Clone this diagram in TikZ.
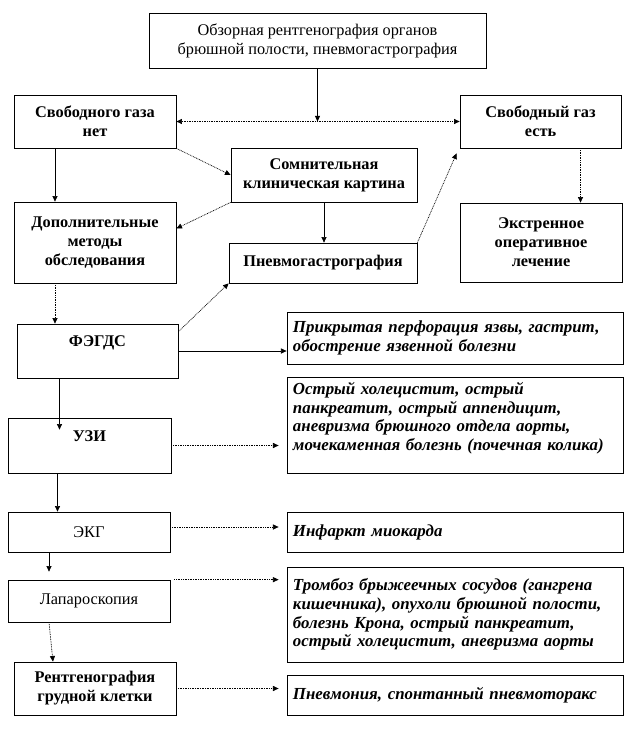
\documentclass[tikz,border=0pt]{standalone}
\usepackage{fontspec}
\setmainfont{Liberation Serif}
\usetikzlibrary{arrows.meta, positioning, calc}
\tikzset{
  >={Triangle[length=4pt, width=3.6pt]},
  box/.style={rectangle, draw=black, fill=white, align=center, font=\fontsize{11.6}{13.6}\selectfont\bfseries, line width=0.5pt, inner sep=2pt},
  plainbox/.style={box, font=\fontsize{11.6}{13.6}\selectfont},
  resbox/.style={rectangle, draw=black, fill=white, text width=8.1cm, inner xsep=0.15cm, align=left, font=\fontsize{12}{13.2}\selectfont\bfseries\itshape, line width=0.5pt},
  arrow/.style={->, line width=0.5pt, color=black},
  dotarrow/.style={arrow, dash pattern=on 0.6pt off 0.6pt}
}

\begin{document}
\begin{tikzpicture}[x=0.025cm, y=-0.025cm]
  \useasboundingbox[fill=white] (0,0) rectangle (635,756);

  % Top
  \node[plainbox, minimum width=8.425cm, minimum height=1.375cm] (survey) at (317.5,40.5) {Обзорная рентгенография органов\\брюшной полости, пневмогастрография};
  \node[box, minimum width=4.05cm, minimum height=1.325cm] (nogas) at (95,121.5) {Свободного газа\\нет};
  \node[box, minimum width=4.025cm, minimum height=1.325cm] (gas) at (540.5,121.5) {Свободный газ\\есть};
  \node[box, minimum width=4.65cm, minimum height=1.35cm] (doubt) at (324,175) {Сомнительная\\клиническая картина};
  \node[box, minimum width=4.05cm, minimum height=2.025cm] (extra) at (95,242.5) {Дополнительные\\методы\\обследования};
  \node[box, minimum width=4.7cm, minimum height=1.0cm] (pgg) at (323,263) {Пневмогастрография};
  \node[box, minimum width=4.05cm, minimum height=1.975cm] (surgery) at (541,242.5) {Экстренное\\оперативное\\лечение};

  % Methods
  \node[box, minimum width=4.025cm, minimum height=1.35cm] (fegds) at (97.5,351) {ФЭГДС\\ \mbox{}};
  \node[box, minimum width=4.075cm, minimum height=1.375cm] (usi) at (89.5,445.5) {УЗИ\\ \mbox{}};
  \node[plainbox, minimum width=4.05cm, minimum height=1.0cm] (ecg) at (89,532) {ЭКГ};
  \node[plainbox, minimum width=4.05cm, minimum height=1.05cm] (lap) at (89,601) {Лапароскопия};
  \node[box, minimum width=4.05cm, minimum height=1.325cm] (xray) at (95,688.5) {Рентгенография\\грудной клетки};

  % Findings
  \node[resbox, minimum height=1.3cm] (ulcer) at (455,338) {Прикрытая перфорация язвы, гастрит,\\обострение язвенной болезни};
  \node[resbox, minimum height=2.375cm] (acute) at (455,425.5) {Острый холецистит, острый\\панкреатит, острый аппендицит,\\аневризма брюшного отдела аорты,\\мочекаменная болезнь (почечная колика)\\ \mbox{}};
  \node[resbox, minimum height=1.0cm] (infarct) at (455,532) {Инфаркт миокарда};
  \node[resbox, minimum height=2.375cm] (thromb) at (455,614.5) {Тромбоз брыжеечных сосудов (гангрена\\кишечника), опухоли брюшной полости,\\болезнь Крона, острый панкреатит,\\острый холецистит, аневризма аорты};
  \node[resbox, minimum height=1.0cm] (pneum) at (455,695) {Пневмония, спонтанный пневмоторакс};

  % Connectors
  \draw[arrow] (survey) -- (survey |- nogas);
  \draw[dotarrow, <->] (nogas) -- (gas);
  \draw[arrow] ([xshift=-1cm]nogas.south) -- ([xshift=-1cm]extra.north);
  \draw[dotarrow] (nogas.south east) -- (doubt.west);
  \draw[dotarrow] (doubt.south west) -- ([yshift=0.35cm]extra.east);
  \draw[arrow] (doubt.south) -- (doubt.south |- pgg.north);
  \draw[dotarrow] (pgg.north east) -- ([shift={(-0.075cm,-0.125cm)}]gas.south west);
  \draw[dotarrow] ([xshift=1cm]gas.south) -- ([xshift=1cm]gas.south |- surgery.north);
  \draw[dotarrow] ([xshift=-1cm]extra.south) -- ([xshift=-1cm]extra.south |- fegds.north);
  \draw[dotarrow] ([yshift=-0.2cm]fegds.north east) -- (pgg.south west);
  \draw[arrow] (fegds.east) -- (fegds.east -| ulcer.west);
  \draw[arrow] ([xshift=-0.95cm]fegds.south) -- ([xshift=-0.95cm, yshift=-0.3cm]fegds.south |- usi.north);
  \draw[dotarrow] (usi.east) -- ([xshift=-0.2cm]usi.east -| acute.west);
  \draw[arrow] ([xshift=-0.8cm]usi.south) -- ([xshift=-0.8cm]usi.south |- ecg.north);
  \draw[dotarrow] ([yshift=0.125cm]ecg.east) -- ([xshift=-0.2cm, yshift=0.125cm]ecg.east -| infarct.west);
  \draw[arrow] ([xshift=-1cm]ecg.south) -- ([xshift=-1cm, yshift=0.2cm]ecg.south |- lap.north);
  \draw[dotarrow] ([xshift=0.1cm]lap.north east) -- ([xshift=-0.2cm]lap.north east -| thromb.west);
  \draw[dotarrow] ([xshift=-1cm]lap.south) -- ([xshift=-1.05cm]xray.north);
  \draw[dotarrow] (xray.east) -- ([xshift=-0.2cm]xray.east -| pneum.west);
\end{tikzpicture}
\end{document}
